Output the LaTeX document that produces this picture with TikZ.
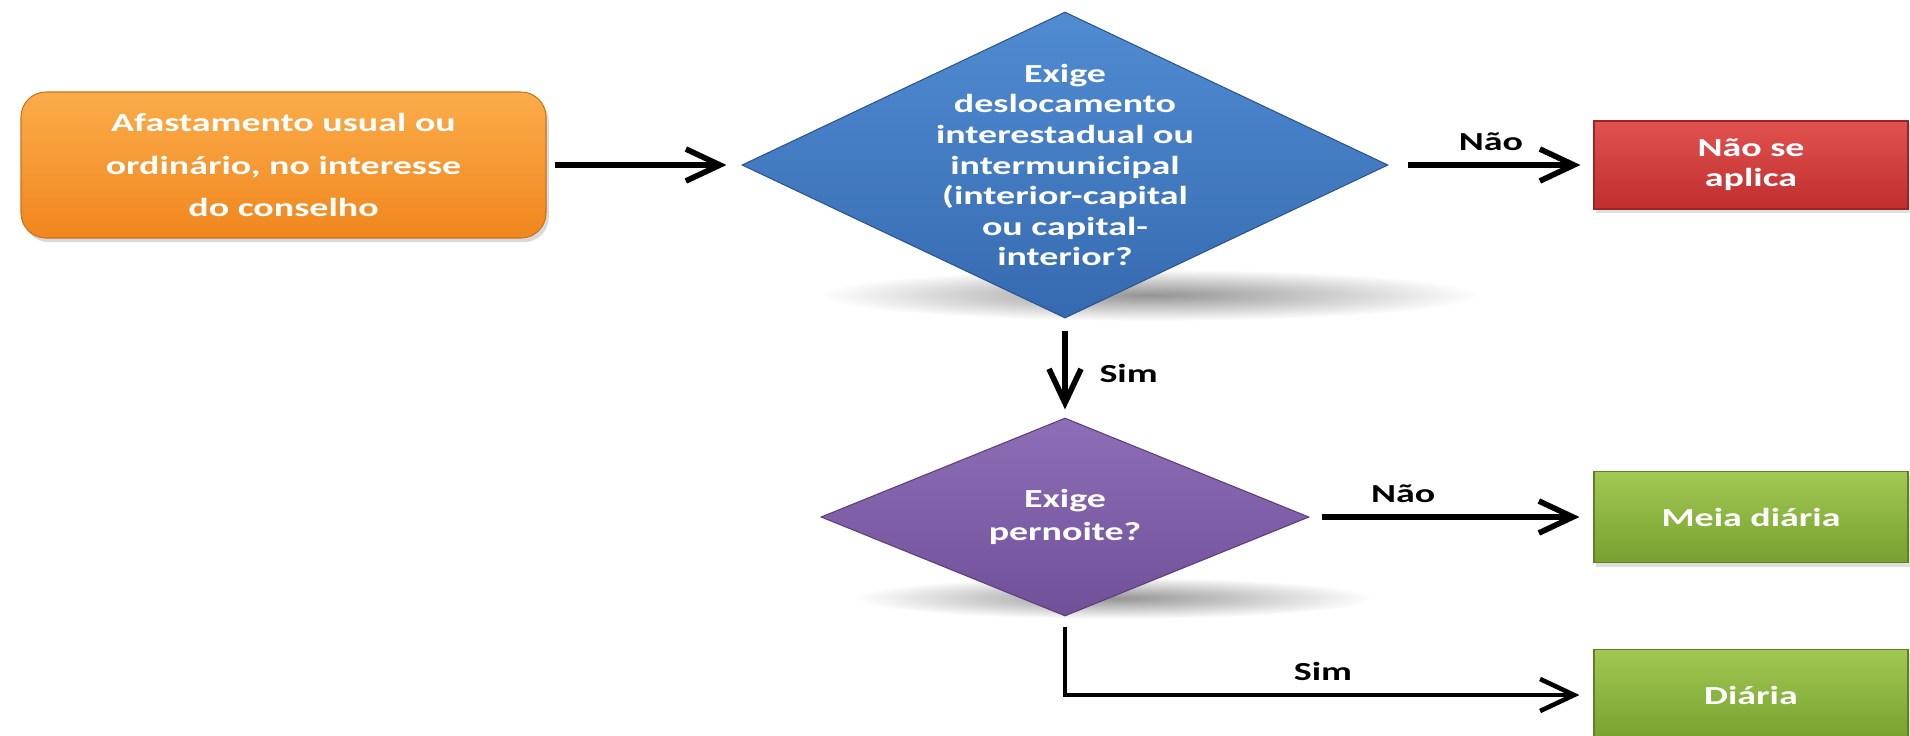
\documentclass[tikz,border=0pt]{standalone}
\usepackage{fontspec}
\setmainfont{Carlito}[FakeStretch=1.46]
\usetikzlibrary{shapes.geometric, arrows.meta, positioning, shadows}

\definecolor{laranjaA}{RGB}{251,172,74}
\definecolor{laranjaB}{RGB}{240,134,30}
\definecolor{azulA}{RGB}{80,140,210}
\definecolor{azulB}{RGB}{54,106,176}
\definecolor{vermA}{RGB}{224,82,80}
\definecolor{vermB}{RGB}{192,46,46}
\definecolor{roxoA}{RGB}{142,110,182}
\definecolor{roxoB}{RGB}{112,80,152}
\definecolor{verdeA}{RGB}{160,200,82}
\definecolor{verdeB}{RGB}{120,160,46}

\begin{document}
\begin{tikzpicture}[node distance=7cm, >={Straight Barb[length=3.4mm,width=3.2mm]},
    texto/.style={text=white, align=center, font=\fontsize{7.4}{8.7}\selectfont\bfseries},
    rotulo/.style={text=black, font=\fontsize{7.4}{9}\selectfont\bfseries},
    caixa/.style={rectangle, texto, minimum width=3.14cm, minimum height=0.9cm, inner sep=0pt,
        drop shadow={opacity=0.25, shadow xshift=0.6pt, shadow yshift=-1.2pt}},
    decisao/.style={diamond, texto, inner sep=0pt, aspect=2.1},
    seta/.style={line width=1.6pt}]
    \useasboundingbox (0,0) rectangle (19.10,-7.35);

    % sombras dos losangos
    \shade[inner color=black!42, outer color=white] (11.5,-2.95) ellipse (3.3 and 0.26);
    \shade[inner color=black!42, outer color=white] (11.14,-5.98) ellipse (2.6 and 0.21);

    \node[rectangle, rounded corners=0.25cm, minimum width=5.25cm, minimum height=1.46cm,
        top color=laranjaA, bottom color=laranjaB, draw=laranjaB!85!black, line width=0.3pt,
        texto, font=\fontsize{7.4}{12.2}\selectfont\bfseries,
        drop shadow={opacity=0.3, shadow xshift=0.8pt, shadow yshift=-1.2pt}]
        (1) at (2.835,-1.65) {Afastamento usual ou\\ordinário, no interesse\\do conselho};
    \node[decisao, minimum width=6.46cm, minimum height=3.06cm, top color=azulA, bottom color=azulB,
        draw=azulB!80!black, line width=0.3pt,
        label={[texto]center:{Exige\\deslocamento\\interestadual ou\\intermunicipal\\(interior-capital\\ou capital-\\interior?}}]
        (2) [node distance=7.815cm, right of=1] {};
    \node[caixa, top color=vermA, bottom color=vermB, draw=vermB!80!black, line width=0.3pt,
        minimum height=0.88cm, font=\fontsize{7.4}{8.5}\selectfont\bfseries]
        (3) [node distance=6.86cm, right of=2] {Não se\\aplica};
    \node[decisao, minimum width=4.88cm, minimum height=1.98cm, top color=roxoA, bottom color=roxoB,
        draw=roxoB!80!black, line width=0.3pt, font=\fontsize{7.4}{9.4}\selectfont\bfseries]
        (4) [node distance=3.52cm, below of=2] {Exige\\pernoite?};
    \node[caixa, top color=verdeA, bottom color=verdeB, draw=verdeB!80!black, line width=0.3pt,
        minimum height=0.91cm]
        (5) [node distance=6.86cm, right of=4] {Meia diária};
    \node[caixa, top color=verdeA, bottom color=verdeB, draw=verdeB!80!black, line width=0.3pt,
        minimum height=0.91cm]
        (6) [node distance=1.78cm, below of=5] {Diária};

    \path[->, seta]
    (1) edge [shorten <=0.08cm, shorten >=0.15cm] (2)
    (2) edge [shorten <=0.19cm, shorten >=0.13cm] node [rotulo, above] {Não} (3)
    (2) edge [shorten <=0.12cm, shorten >=0.08cm] node [rotulo, right=2mm, pos=0.55] {Sim} (4)
    (4) edge [shorten <=0.12cm, shorten >=0.14cm] node [rotulo, above, pos=0.33] {Não} (5);
    \draw[->, line width=1.3pt, shorten <=0.1cm, shorten >=0.14cm]
    (4) |- node [rotulo, above, pos=0.744] {Sim} (6);
\end{tikzpicture}
\end{document}
